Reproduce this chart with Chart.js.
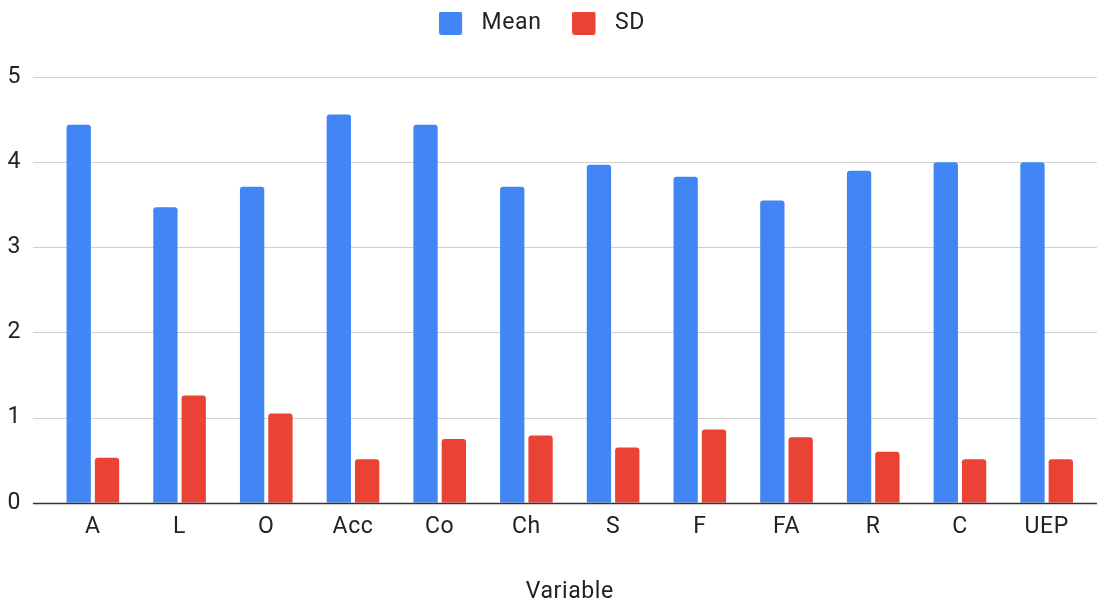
<!DOCTYPE html>
<html>
<head>
<meta charset="utf-8">
<script src="https://cdn.jsdelivr.net/npm/chart.js@4/dist/chart.umd.min.js"></script>
<style>
  html, body { margin: 0; padding: 0; background: #ffffff; }
  #wrap { width: 1097px; height: 602px; position: relative; }
</style>
</head>
<body>
<div id="wrap"><canvas id="chart"></canvas></div>
<script>
// Category labels along the x axis
const categories = ['A', 'L', 'O', 'Acc', 'Co', 'Ch', 'S', 'F', 'FA', 'R', 'C', 'UEP'];
// Series values
const meanValues = [4.44, 3.47, 3.71, 4.56, 4.44, 3.71, 3.97, 3.83, 3.55, 3.90, 4.00, 4.00];
const sdValues   = [0.53, 1.26, 1.05, 0.51, 0.75, 0.79, 0.65, 0.86, 0.77, 0.60, 0.51, 0.51];
// Series names and y-axis ticks
const seriesNames = ['Mean', 'SD'];
const yTicks = [0, 1, 2, 3, 4, 5];
const xAxisTitle = 'Variable';

const BLUE = '#4285F4';
const RED = '#EA4335';
const TEXT = '#222222';
const FONT_SIZE = 23;

Chart.defaults.font.family = 'Roboto, "Liberation Sans", Arial, sans-serif';
Chart.defaults.font.size = FONT_SIZE;
Chart.defaults.color = TEXT;

// Legend swatch: square on the left, transparent room on the right
function makeSwatch(color) {
  const c = document.createElement('canvas');
  c.width = 31; c.height = 23;
  const g = c.getContext('2d');
  g.fillStyle = color;
  g.beginPath();
  g.roundRect(0, 0, 23, 23, 2);
  g.fill();
  return c;
}
const swatches = [makeSwatch(BLUE), makeSwatch(RED)];

// Slightly open letter spacing for all chart text
const textSpacing = {
  id: 'textSpacing',
  beforeInit(chart) { chart.ctx.letterSpacing = '0.6px'; },
  beforeUpdate(chart) { chart.ctx.letterSpacing = '0.6px'; }
};

// Horizontal gridlines across the full width, dark baseline on top of the bars
const sheetGrid = {
  id: 'sheetGrid',
  beforeDatasetsDraw(chart) {
    const ys = chart.scales.y;
    const ctx = chart.ctx;
    const x0 = chart.chartArea.left - 16.5;
    const x1 = chart.width;
    ctx.save();
    ctx.strokeStyle = '#d0d0d0';
    ctx.lineWidth = 1;
    ys.ticks.forEach(t => {
      if (t.value === 0) return;
      const py = Math.round(ys.getPixelForValue(t.value)) + 0.5;
      ctx.beginPath(); ctx.moveTo(x0, py); ctx.lineTo(x1, py); ctx.stroke();
    });
    ctx.restore();
  },
  afterDatasetsDraw(chart) {
    const ys = chart.scales.y;
    const ctx = chart.ctx;
    const x0 = chart.chartArea.left - 16.5;
    const x1 = chart.width;
    const py = Math.round(ys.getPixelForValue(0)) + 0.5;
    ctx.save();
    ctx.strokeStyle = '#333333';
    ctx.lineWidth = 1.3;
    ctx.beginPath(); ctx.moveTo(x0, py); ctx.lineTo(x1, py); ctx.stroke();
    ctx.restore();
  }
};

const barCommon = {
  categoryPercentage: 0.653,
  barPercentage: 0.859,
  borderRadius: 3,
  borderSkipped: 'start'
};

new Chart(document.getElementById('chart'), {
  type: 'bar',
  data: {
    labels: categories,
    datasets: [
      Object.assign({ label: seriesNames[0], data: meanValues, backgroundColor: BLUE }, barCommon),
      Object.assign({ label: seriesNames[1], data: sdValues, backgroundColor: RED }, barCommon)
    ]
  },
  options: {
    responsive: true,
    maintainAspectRatio: false,
    animation: false,
    layout: { padding: { top: -19.5, left: -6, right: 7, bottom: 0 } },
    plugins: {
      legend: {
        position: 'top',
        align: 'center',
        labels: {
          usePointStyle: true,
          pointStyleWidth: 31,
          boxHeight: 23,
          padding: 31,
          color: TEXT,
          font: { size: FONT_SIZE },
          generateLabels(chart) {
            const items = Chart.defaults.plugins.legend.labels.generateLabels(chart);
            items.forEach((it, i) => { it.pointStyle = swatches[i]; });
            return items;
          }
        },
        onClick: null
      },
      tooltip: { enabled: false }
    },
    scales: {
      x: {
        offset: true,
        grid: { display: false, drawTicks: false },
        border: { display: false },
        ticks: { padding: 10.2, color: TEXT, font: { size: FONT_SIZE }, maxRotation: 0, autoSkip: false },
        title: {
          display: true,
          text: xAxisTitle,
          color: TEXT,
          font: { size: FONT_SIZE },
          padding: { top: 27.9, bottom: -4.3 }
        }
      },
      // empty band between the legend and the plot
      xTop: {
        type: 'category',
        position: 'top',
        grid: { display: false, drawTicks: false },
        border: { display: false },
        ticks: { display: false },
        afterFit(scale) { scale.height = 32.5; }
      },
      y: {
        min: yTicks[0],
        max: yTicks[yTicks.length - 1],
        afterBuildTicks(scale) { scale.ticks = yTicks.map(v => ({ value: v })); },
        afterFit(scale) { scale.width = 55.5; },
        grid: { display: false, drawTicks: false },
        border: { display: false },
        ticks: { padding: 28.5, color: TEXT, font: { size: FONT_SIZE } }
      }
    }
  },
  plugins: [textSpacing, sheetGrid]
});
</script>
</body>
</html>
